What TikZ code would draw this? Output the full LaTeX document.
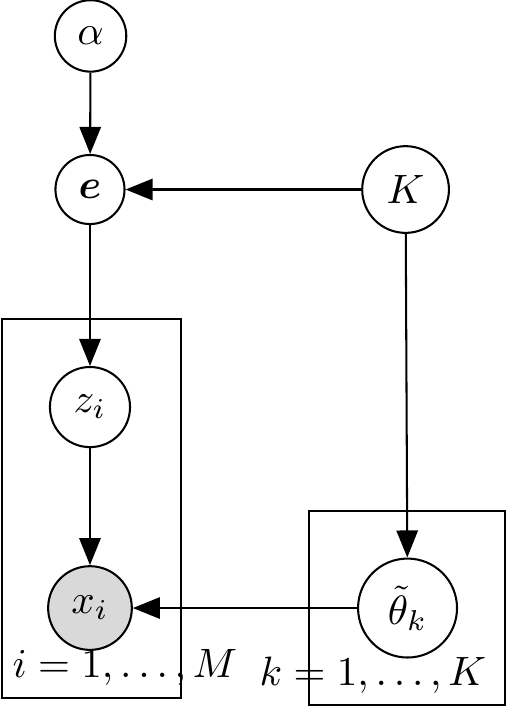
\documentclass[tikz,border=0pt]{standalone}
\usepackage{amsmath,amssymb,bm}
\usetikzlibrary{arrows.meta}

\tikzset{
	var/.style={circle,draw,line width=0.5pt,inner sep=3.45pt},
	obs/.style={var,fill=black!15},
	plate/.style={draw,line width=0.5pt},
	edge/.style={line width=0.5pt,-{Triangle[length=6.6pt,width=5.2pt]}}
}

\begin{document}
\begin{tikzpicture}
		\useasboundingbox (0,0) rectangle (4.336,-6.058);
		\node[var] (alpha) at (0.776,-0.308) {$\alpha$};
		\node[var] (e) at (0.771,-1.624) {$\bm{e}$};
		\node[var] (K) at (3.475,-1.624) {$K$};
		\node[var] (z) at (0.771,-3.488) {$z_i$};
		\node[obs] (x) at (0.771,-5.21) {$x_i$};
		\node[var] (theta) at (3.492,-5.21) {$\tilde{\theta}_k$};
		% plates
		\draw[plate] (0.017,-2.734) rectangle (1.551,-5.981);
		\draw[plate] (2.648,-4.379) rectangle (4.327,-6.041);
		\node[anchor=base] (lblM) at (1.071,-5.801) {$i=1,\ldots,M$};
		\node[anchor=base] (lblK) at (3.196,-5.870) {$k=1,\ldots,K$};
		% edges
		\draw[edge] (alpha) -- (e);
		\draw[edge] (K) -- (e);
		\draw[edge] (e) -- (z);
		\draw[edge] (z) -- (x);
		\draw[edge] (K) -- (theta);
		\draw[edge] (theta) -- (x);
	\end{tikzpicture}
\end{document}
